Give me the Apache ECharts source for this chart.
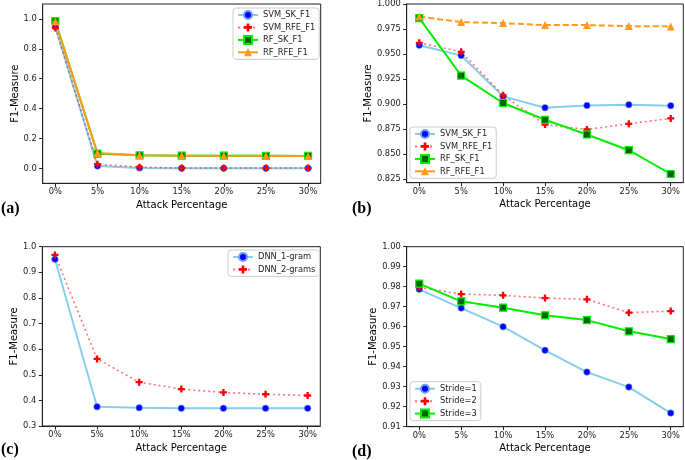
<!DOCTYPE html>
<html>
<head>
<meta charset="utf-8">
<script src="https://cdn.jsdelivr.net/npm/echarts@6/dist/echarts.min.js"></script>
<style>html,body{margin:0;padding:0;background:#fff}#c{width:685px;height:460px}</style>
</head>
<body>
<div id="c"></div>
<script>
// ---- data ----
const categories = ['0%', '5%', '10%', '15%', '20%', '25%', '30%'];
const xTickIdx = [0, 1, 2, 3, 4, 5, 6];

// panel (a)
const svmSkA  = [0.948, 0.015, 0.003, 0.001, 0.001, 0.001, 0.001];
const svmRfeA = [0.940, 0.028, 0.008, 0.002, 0.002, 0.002, 0.002];
const rfSkA   = [0.985, 0.098, 0.087, 0.085, 0.085, 0.084, 0.083];
const rfRfeA  = [0.985, 0.102, 0.087, 0.085, 0.085, 0.084, 0.083];
// panel (b)
const svmSkB  = [0.9588, 0.9485, 0.9076, 0.8963, 0.8986, 0.8993, 0.8983];
const svmRfeB = [0.9612, 0.9522, 0.9087, 0.8795, 0.8745, 0.8802, 0.8856];
const rfSkB   = [0.9859, 0.9284, 0.9010, 0.8842, 0.8695, 0.8538, 0.8300];
const rfRfeB  = [0.9875, 0.9819, 0.9809, 0.9789, 0.9789, 0.9779, 0.9776];
// panel (c)
const dnn1 = [0.951, 0.375, 0.371, 0.369, 0.369, 0.369, 0.369];
const dnn2 = [0.968, 0.562, 0.471, 0.444, 0.431, 0.424, 0.419];
// panel (d)
const stride1 = [0.9787, 0.9693, 0.9600, 0.9482, 0.9373, 0.9298, 0.9168];
const stride2 = [0.9797, 0.9763, 0.9757, 0.9743, 0.9737, 0.9670, 0.9678];
const stride3 = [0.9815, 0.9727, 0.9695, 0.9657, 0.9633, 0.9577, 0.9538];

// tick labels
const yTicksA = [0.0, 0.2, 0.4, 0.6, 0.8, 1.0];
const yTicksB = [0.825, 0.850, 0.875, 0.900, 0.925, 0.950, 0.975, 1.000];
const yTicksC = [0.3, 0.4, 0.5, 0.6, 0.7, 0.8, 0.9, 1.0];
const yTicksD = [0.91, 0.92, 0.93, 0.94, 0.95, 0.96, 0.97, 0.98, 0.99, 1.00];

// ---- styles ----
const FONT = 'DejaVu Sans';
const C_SKY = '#87ceeb', C_BLUE = '#0000ff', C_RED = '#ff0000', C_REDL = 'rgba(255,0,0,0.55)';
const C_LIME = '#00ee00', C_DG = '#006400', C_OR = '#ff9a1a';
const PLUS = 'path://M1,0H2V1H3V2H2V3H1V2H0V1H1Z';

const pairs = arr => arr.map((v, i) => [i, v]);

function sBlue(name, data, g) {
  return { name, type: 'line', xAxisIndex: g, yAxisIndex: g, data: pairs(data),
    symbol: 'circle', symbolSize: 6.5,
    lineStyle: { color: C_SKY, width: 2 },
    itemStyle: { color: C_BLUE, borderColor: '#6f9ff0', borderWidth: 0.6 },
    emphasis: { disabled: true }, animation: false };
}
function sRed(name, data, g) {
  return { name, type: 'line', xAxisIndex: g, yAxisIndex: g, data: pairs(data),
    symbol: PLUS, symbolSize: 7,
    lineStyle: { color: C_REDL, width: 1.6, type: [2, 3] },
    itemStyle: { color: C_RED },
    emphasis: { disabled: true }, animation: false };
}
function sGreen(name, data, g) {
  return { name, type: 'line', xAxisIndex: g, yAxisIndex: g, data: pairs(data),
    symbol: 'rect', symbolSize: 7,
    lineStyle: { color: C_LIME, width: 2 },
    itemStyle: { color: C_DG, borderColor: C_LIME, borderWidth: 1.2 },
    emphasis: { disabled: true }, animation: false };
}
function sOrange(name, data, g, dashed) {
  return { name, type: 'line', xAxisIndex: g, yAxisIndex: g, data: pairs(data),
    symbol: 'triangle', symbolSize: 8,
    lineStyle: { color: C_OR, width: 2, type: dashed ? [6, 3] : 'solid' },
    itemStyle: { color: C_OR },
    emphasis: { disabled: true }, animation: false };
}

function grid(left, top, w, h) {
  return { left, top, width: w, height: h, show: true, borderColor: '#222', borderWidth: 1, backgroundColor: 'transparent' };
}
function xAx(g) {
  return { type: 'value', gridIndex: g, min: -0.3, max: 6.3,
    name: 'Attack Percentage', nameLocation: 'middle', nameGap: 17, nameMoveOverlap: false,
    nameTextStyle: { fontFamily: FONT, fontSize: 10, color: '#000' },
    axisLine: { show: true, onZero: false, lineStyle: { color: '#222', width: 1 } },
    axisTick: { show: true, length: 3.5, customValues: xTickIdx, lineStyle: { color: '#222' } },
    axisLabel: { customValues: xTickIdx, margin: 5, fontFamily: FONT, fontSize: 8.3, color: '#222',
      formatter: v => categories[Math.round(v)] },
    splitLine: { show: false } };
}
function yAx(g, min, max, ticks, dec, gap) {
  return { type: 'value', gridIndex: g, min, max,
    name: 'F1-Measure', nameLocation: 'middle', nameGap: gap, nameRotate: 90, nameMoveOverlap: false,
    nameTextStyle: { fontFamily: FONT, fontSize: 10, color: '#000' },
    axisLine: { show: true, onZero: false, lineStyle: { color: '#222', width: 1 } },
    axisTick: { show: true, length: 3.5, customValues: ticks, lineStyle: { color: '#222' } },
    axisLabel: { customValues: ticks, margin: 6, fontFamily: FONT, fontSize: 8.3, color: '#222',
      formatter: v => Number(v).toFixed(dec) },
    splitLine: { show: false } };
}
function legend(left, top, names) {
  return { left, top, orient: 'vertical', data: names, selectedMode: false,
    itemWidth: 20, itemHeight: 10, itemGap: 2.45, padding: [2, 4, 2, 4],
    backgroundColor: 'rgba(255,255,255,0.8)', borderColor: '#cccccc', borderWidth: 1, borderRadius: 3,
    textStyle: { fontFamily: FONT, fontSize: 8.3, color: '#222', lineHeight: 10 } };
}
function label(txt, x, y) {
  return { type: 'text', left: x, top: y,
    style: { text: txt, font: 'bold 16px "Liberation Serif"', fill: '#000' } };
}

const option = {
  animation: false,
  backgroundColor: '#fff',
  grid: [grid(42.7, 4, 278, 179.3), grid(406.7, 4, 276.6, 178.7), grid(42.3, 246.7, 278, 179.3), grid(406.7, 246.7, 276.6, 180)],
  xAxis: [xAx(0), xAx(1), xAx(2), xAx(3)],
  yAxis: [yAx(0, -0.1, 1.1, yTicksA, 1, 22), yAx(1, 0.8213, 1.0, yTicksB, 3, 33), yAx(2, 0.3, 1.0, yTicksC, 1, 23), yAx(3, 0.91, 1.0, yTicksD, 2, 28)],
  legend: [
    legend(233, 8, ['SVM_SK_F1', 'SVM_RFE_F1', 'RF_SK_F1', 'RF_RFE_F1']),
    legend(410, 127, ['SVM_SK_F1', 'SVM_RFE_F1', 'RF_SK_F1', 'RF_RFE_F1']),
    legend(228, 250, ['DNN_1-gram', 'DNN_2-grams']),
    legend(410, 381.7, ['Stride=1', 'Stride=2', 'Stride=3'])
  ],
  series: [
    sBlue('SVM_SK_F1', svmSkA, 0), sRed('SVM_RFE_F1', svmRfeA, 0), sGreen('RF_SK_F1', rfSkA, 0), sOrange('RF_RFE_F1', rfRfeA, 0, false),
    sBlue('SVM_SK_F1', svmSkB, 1), sRed('SVM_RFE_F1', svmRfeB, 1), sGreen('RF_SK_F1', rfSkB, 1), sOrange('RF_RFE_F1', rfRfeB, 1, true),
    sBlue('DNN_1-gram', dnn1, 2), sRed('DNN_2-grams', dnn2, 2),
    sBlue('Stride=1', stride1, 3), sRed('Stride=2', stride2, 3), sGreen('Stride=3', stride3, 3)
  ],
  graphic: [label('(a)', 1, 201), label('(b)', 352, 201), label('(c)', 1, 442), label('(d)', 352, 444)]
};
const chart = echarts.init(document.getElementById('c'), null, { renderer: 'canvas' });
chart.setOption(option);
</script>
</body>
</html>
